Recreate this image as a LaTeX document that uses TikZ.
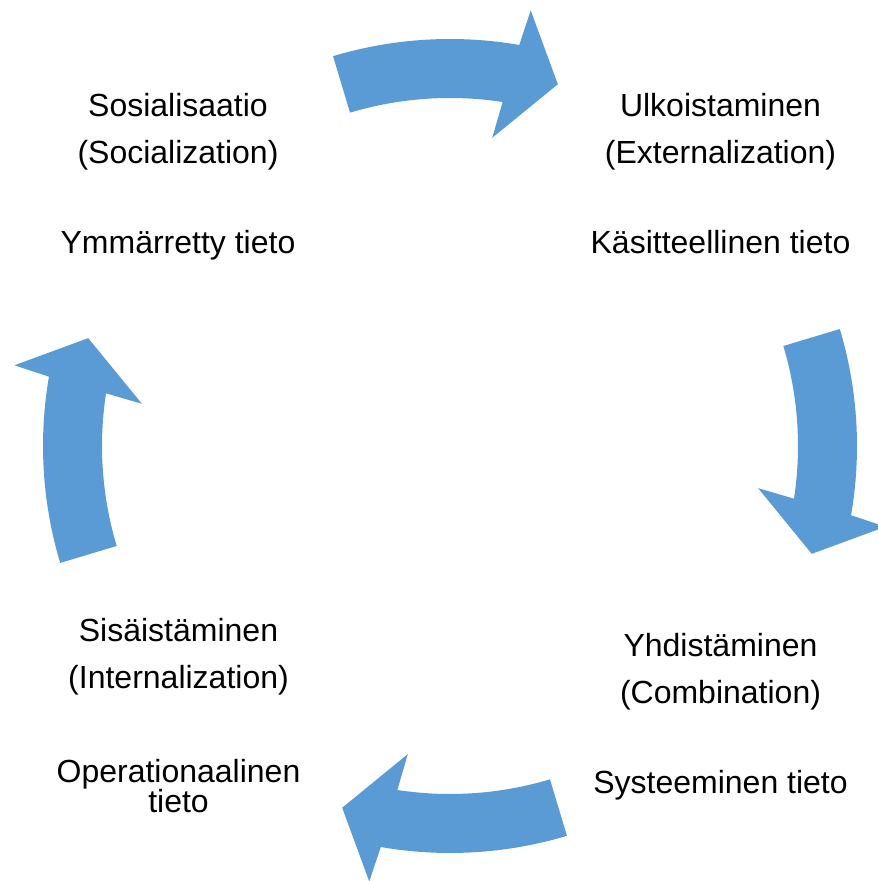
\documentclass[tikz,border=0pt]{standalone}
\usepackage{fontspec}
\setmainfont{Liberation Sans}
\definecolor{cyclearrow}{RGB}{91,155,213}
\tikzset{
  cyclearrow/.style={fill=cyclearrow, draw=none},
  phase/.style={anchor=base, inner sep=0pt, font=\fontsize{16}{16}\selectfont, text=black}
}
\begin{document}
\begin{tikzpicture}[x=0.5pt, y=0.5pt]
  \useasboundingbox (0,0) rectangle (877,881);
  % four curved clockwise arrows around the centre
  \begin{scope}[shift={(450,435)}]
    \foreach \a in {90,0,-90,180}{
      \fill[cyclearrow]
        (\a+16.7:407) arc[start angle=\a+16.7, end angle=\a-9.8, radius=407]
        -- (\a-10.5:443) -- (\a-16.6:377.5) -- (\a-7.8:311) -- (\a-8.7:348)
        arc[start angle=\a-8.7, end angle=\a+16.7, radius=348] -- cycle;
    }
  \end{scope}
  % top left: socialization
  \node[phase] (soc1) at (178,764) {Sosialisaatio};
  \node[phase] (soc2) at (178,717) {(Socialization)};
  \node[phase] (soc3) at (178,627) {Ymmärretty tieto};
  % top right: externalization
  \node[phase] (ext1) at (720.5,764) {Ulkoistaminen};
  \node[phase] (ext2) at (720.5,717) {(Externalization)};
  \node[phase] (ext3) at (720.5,627) {Käsitteellinen tieto};
  % bottom right: combination
  \node[phase] (com1) at (720.5,224) {Yhdistäminen};
  \node[phase] (com2) at (720.5,177) {(Combination)};
  \node[phase] (com3) at (720.5,87) {Systeeminen tieto};
  % bottom left: internalization
  \node[phase] (int1) at (178.5,239) {Sisäistäminen};
  \node[phase] (int2) at (178.5,192) {(Internalization)};
  \node[phase] (int3) at (178.5,98) {Operationaalinen};
  \node[phase] (int4) at (178.5,68.5) {tieto};
\end{tikzpicture}
\end{document}
